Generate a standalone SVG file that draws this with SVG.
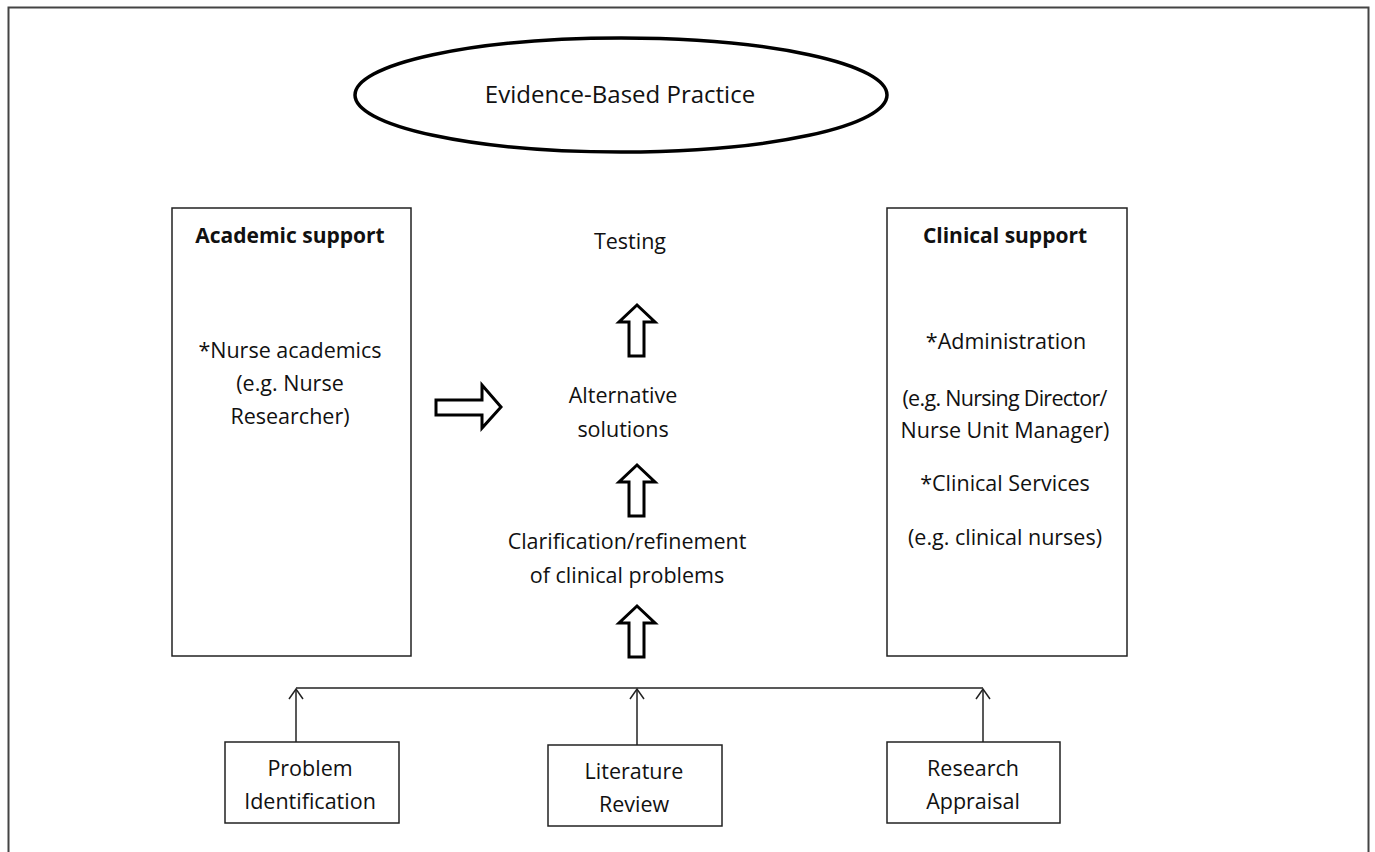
<svg xmlns="http://www.w3.org/2000/svg" width="1375" height="852" viewBox="0 0 1375 852">
<style>
text{font-family:"Open Sans","Liberation Sans",sans-serif;font-size:21.5px;fill:#111;text-anchor:middle}
.b{font-weight:bold;font-size:21px}
.t{font-size:24px}
.box{fill:#fff;stroke:#222;stroke-width:1.5}
.blk{fill:#fff;stroke:#000;stroke-width:3}
.con{fill:none;stroke:#222;stroke-width:1.5}
</style>
<defs>
<marker id="open" markerWidth="16" markerHeight="16" refX="11" refY="8" orient="auto" markerUnits="userSpaceOnUse" viewBox="0 0 16 16">
<path d="M1,1 L11,8 L1,15" fill="none" stroke="#222" stroke-width="1.5"/>
</marker>
</defs>
<rect x="8.5" y="7.5" width="1360" height="860" fill="#fff" stroke="#444" stroke-width="2"/>
<g id="ebp"><ellipse cx="621" cy="95" rx="266" ry="57" fill="#fff" stroke="#000" stroke-width="3.5"/><text class="t" x="620" y="103">Evidence-Based Practice</text></g>
<g id="academic"><rect class="box" x="172" y="208" width="239" height="448"/>
<text class="b" x="290" y="243">Academic support</text>
<text x="290" y="358">*Nurse academics</text>
<text x="290" y="391">(e.g. Nurse</text>
<text x="290" y="424">Researcher)</text></g>
<g id="clinical"><rect class="box" x="887" y="208" width="240" height="448"/>
<text class="b" x="1005" y="243">Clinical support</text>
<text x="1006" y="349">*Administration</text>
<text x="1005" y="406" textLength="205">(e.g. Nursing Director/</text>
<text x="1005" y="438">Nurse Unit Manager)</text>
<text x="1005" y="491">*Clinical Services</text>
<text x="1005" y="545">(e.g. clinical nurses)</text></g>
<g id="testing"><text x="630" y="249">Testing</text></g>
<g id="alternatives"><text x="623" y="403">Alternative</text><text x="623" y="437">solutions</text></g>
<g id="clarification"><text x="627" y="549">Clarification/refinement</text><text x="627" y="583">of clinical problems</text></g>
<g id="problem"><rect class="box" x="225" y="742" width="174" height="81"/><text x="310" y="776">Problem</text><text x="310" y="809">Identification</text></g>
<g id="literature"><rect class="box" x="548" y="745" width="174" height="81"/><text x="634" y="779">Literature</text><text x="634" y="812">Review</text></g>
<g id="appraisal"><rect class="box" x="887" y="742" width="173" height="81"/><text x="973" y="776">Research</text><text x="973" y="809">Appraisal</text></g>
<g id="connectors">
<path class="blk" d="M629,356 L629,322 L619,322 L637,305 L655,322 L644,322 L644,356 Z"/>
<path class="blk" d="M629,516 L629,482 L619,482 L637,465 L655,482 L644,482 L644,516 Z"/>
<path class="blk" d="M629,657 L629,623 L619,623 L637,606 L655,623 L644,623 L644,657 Z"/>
<path class="blk" d="M436,400 L482,400 L482,385 L501,407 L482,428 L482,415 L436,415 Z"/>
<line class="con" x1="296" y1="688" x2="983" y2="688"/>
<line class="con" x1="296" y1="742" x2="296" y2="689" marker-end="url(#open)"/>
<line class="con" x1="637" y1="745" x2="637" y2="689" marker-end="url(#open)"/>
<line class="con" x1="983" y1="742" x2="983" y2="689" marker-end="url(#open)"/>
</g>
</svg>
